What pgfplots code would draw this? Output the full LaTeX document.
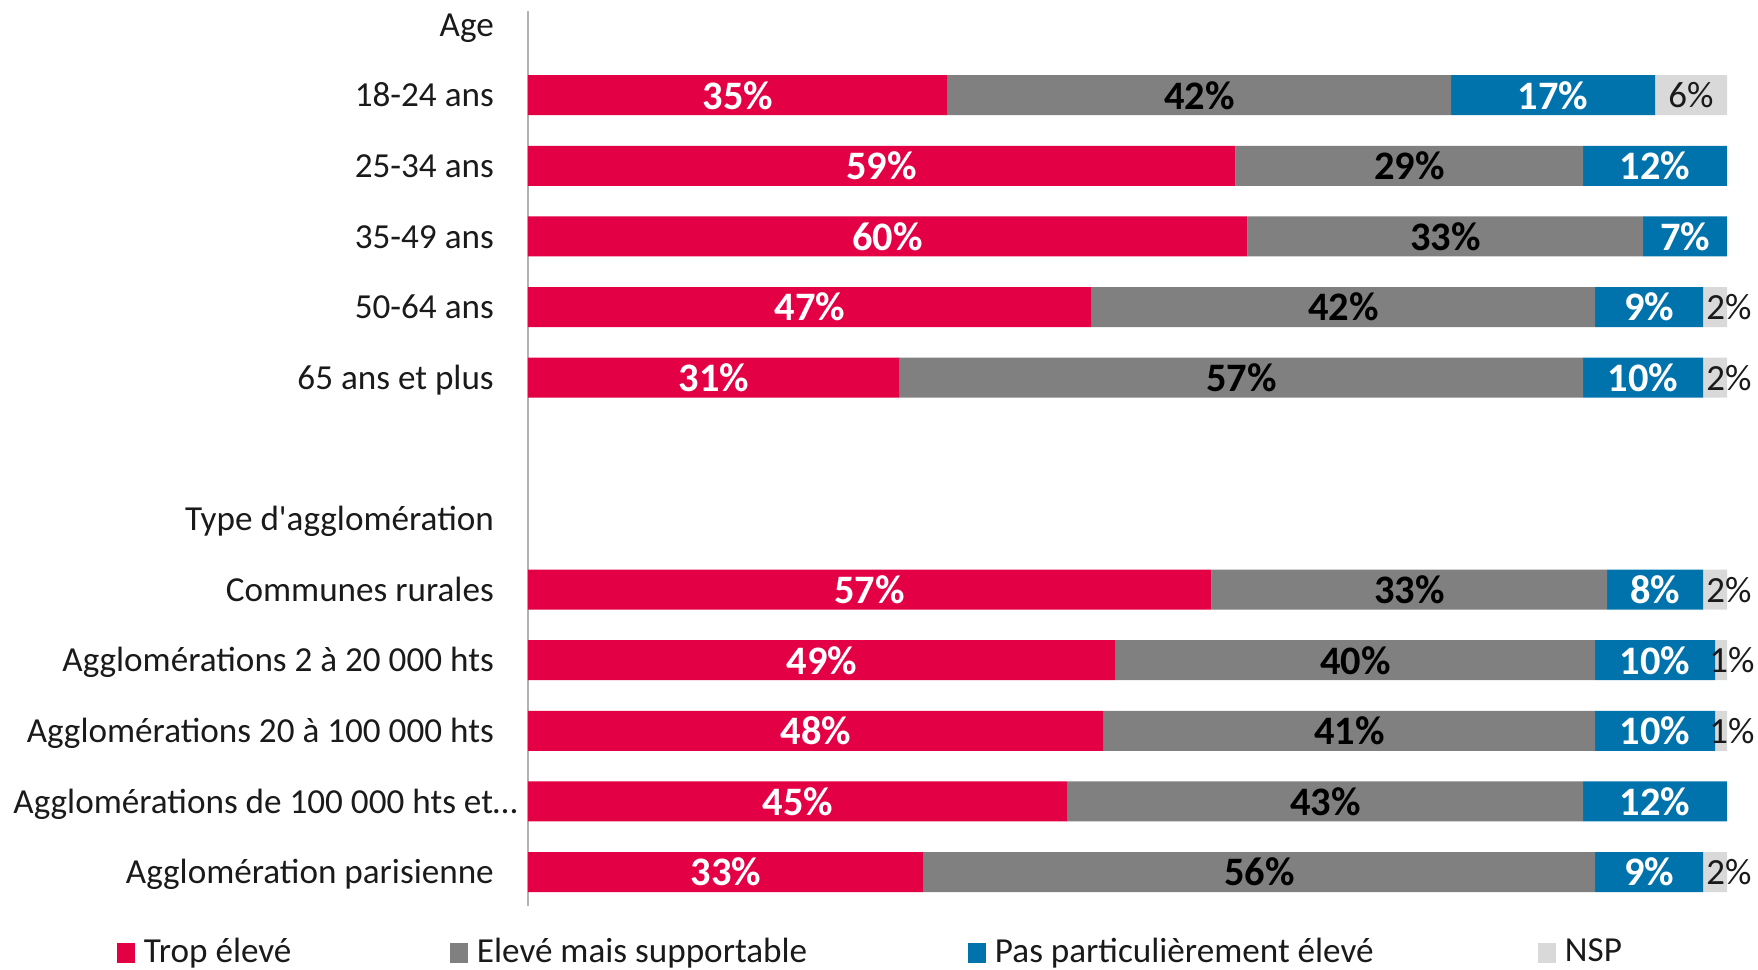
\documentclass[border=0pt]{standalone}
\usepackage{pgfplots}
\usepackage{pgfplotstable}
\pgfplotsset{compat=1.18}
\usepackage{fontspec}
\setmainfont{Carlito}
\definecolor{cRed}{HTML}{E30045}
\definecolor{cGray}{HTML}{808080}
\definecolor{cBlue}{HTML}{0073AD}
\definecolor{cNsp}{HTML}{D9D9D9}
\definecolor{cText}{HTML}{1A1A1A}
\pgfplotstableread{
y  red gray blue nsp nsh
11 35  42   17   6   0
10 59  29   12   0   0
9  60  33   7    0   0
8  47  42   9    2   0.14
7  31  57   10   2   0.14
4  57  33   8    2   0.14
3  49  40   10   1   0.11
2  48  41   10   1   0.11
1  45  43   12   0   0
0  33  56   9    2   0.14
}\datatable
\begin{document}
\begin{tikzpicture}
\begin{axis}[
  at={(0,0)}, anchor=south west,
  scale only axis, width=11.99cm, height=8.948cm,
  xbar stacked, bar width=0.40cm,
  xmin=0, xmax=100, ymin=-0.48, ymax=12.19,
  clip=false,
  axis x line=none, axis y line*=left,
  y axis line style={draw=black!30, -},
  ytick={0,...,12},
  yticklabels={Agglomération parisienne,
    {Agglomérations de 100 000 hts et…\hspace*{-0.235cm}},
    Agglomérations 20 à 100 000 hts,
    Agglomérations 2 à 20 000 hts,
    Communes rurales,
    Type d\textquotesingle agglomération,
    {},
    65 ans et plus, 50-64 ans, 35-49 ans, 25-34 ans, 18-24 ans, Age},
  major tick length=0pt,
  y tick label style={font=\fontsize{10}{12}\selectfont, text=cText, anchor=base east, inner sep=0pt, xshift=-0.335cm, yshift=-3.3pt},
  /pgf/number format/assume math mode=true,
  point meta=explicit,
  nodes near coords={\pgfmathfloatifflags{\pgfplotspointmeta}{0}{}{\pgfmathprintnumber{\pgfplotspointmeta}\%}},
  every node near coord/.append style={font=\fontsize{11.5}{13}\selectfont\bfseries, anchor=center},
  legend columns=4,
  legend style={at={(0,0)}, anchor=west, xshift=-4.11cm, yshift=-0.47cm,
    draw=none, fill=none, inner sep=0pt, outer sep=0pt, column sep=0pt,
    font=\fontsize{10}{12}\selectfont, text=cText,
    nodes={inner sep=0pt},
    /tikz/every odd column/.style={column sep=0.09cm}},
  legend image code/.code={\fill (0cm,-0.1cm) rectangle (0.18cm,0.1cm);},
]
\addplot[fill=cRed, draw=none, every node near coord/.append style={text=white}] table[x=red, y=y, meta=red] {\datatable};
\addplot[fill=cGray, draw=none, every node near coord/.append style={text=black}] table[x=gray, y=y, meta=gray] {\datatable};
\addplot[fill=cBlue, draw=none, every node near coord/.append style={text=white}] table[x=blue, y=y, meta=blue] {\datatable};
\addplot[fill=cNsp, draw=none,
  visualization depends on={\thisrow{nsh} \as \nsh},
  every node near coord/.append style={text=cText, font=\fontsize{10.5}{12}\selectfont, xshift=\nsh cm}] table[x=nsp, y=y, meta=nsp] {\datatable};
\legend{\makebox[3.06cm][l]{Trop élevé}, \makebox[4.91cm][l]{Elevé mais supportable}, \makebox[5.43cm][l]{Pas particulièrement élevé}, NSP}
\end{axis}
\pgfresetboundingbox
\path[use as bounding box] (-5.28,-0.63) rectangle (12.30,9.06);
\end{tikzpicture}
\end{document}
